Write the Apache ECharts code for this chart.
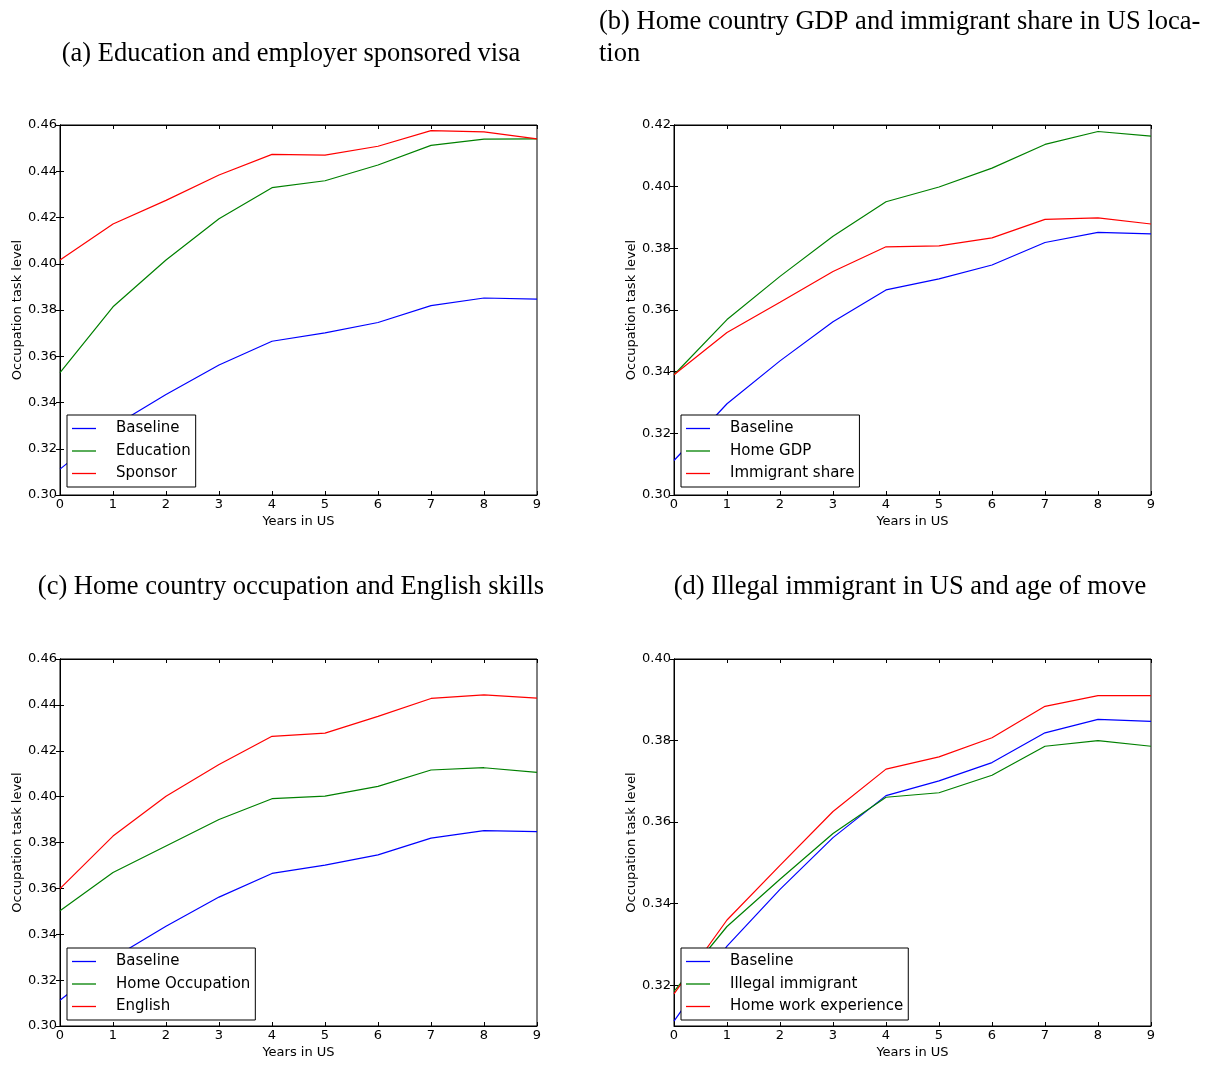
<!DOCTYPE html>
<html>
<head>
<meta charset="utf-8">
<script src="https://cdn.jsdelivr.net/npm/echarts@6/dist/echarts.min.js"></script>
<style>
  html, body { margin: 0; padding: 0; background: #fff; }
  #main { width: 1224px; height: 1065px; }
</style>
</head>
<body>
<div id="main"></div>
<script>
// years since arrival
var years = [0, 1, 2, 3, 4, 5, 6, 7, 8, 9];

// baseline is shared by all four panels
var baseline = [0.3112, 0.3296, 0.3435, 0.3562, 0.3665, 0.3701, 0.3746, 0.3819, 0.3852, 0.3847];

// (a)
var education = [0.3529, 0.3814, 0.4016, 0.4195, 0.4329, 0.4359, 0.4427, 0.4512, 0.4539, 0.4540];
var sponsor = [0.4016, 0.4172, 0.4274, 0.4384, 0.4473, 0.4470, 0.4508, 0.4576, 0.4570, 0.4540];
// (b)
var homeGdp = [0.3390, 0.3569, 0.3709, 0.3839, 0.3951, 0.3999, 0.4060, 0.4137, 0.4179, 0.4164];
var immigrantShare = [0.3390, 0.3527, 0.3625, 0.3725, 0.3805, 0.3808, 0.3834, 0.3894, 0.3899, 0.3879];
// (c)
var homeOccupation = [0.3502, 0.3669, 0.3785, 0.3900, 0.3991, 0.4002, 0.4045, 0.4116, 0.4126, 0.4106];
var english = [0.3599, 0.3828, 0.4002, 0.4140, 0.4263, 0.4277, 0.4350, 0.4428, 0.4444, 0.4429];
// (d)
var illegal = [0.3185, 0.3344, 0.3460, 0.3572, 0.3661, 0.3672, 0.3715, 0.3786, 0.3800, 0.3786];
var homeWork = [0.3179, 0.3360, 0.3494, 0.3626, 0.3730, 0.3760, 0.3807, 0.3884, 0.3910, 0.3910];

var panelTitles = [
    '(a) Education and employer sponsored visa',
    '(b) Home country GDP and immigrant share in US loca-\ntion',
    '(c) Home country occupation and English skills',
    '(d) Illegal immigrant in US and age of move'
];
var yTicks = [
    [0.30, 0.32, 0.34, 0.36, 0.38, 0.40, 0.42, 0.44, 0.46],
    [0.30, 0.32, 0.34, 0.36, 0.38, 0.40, 0.42],
    [0.30, 0.32, 0.34, 0.36, 0.38, 0.40, 0.42, 0.44, 0.46],
    [0.32, 0.34, 0.36, 0.38, 0.40]
];
var yMin = [0.30, 0.30, 0.30, 0.31];
var yMax = [0.46, 0.42, 0.46, 0.40];

var panels = [
    [['Baseline', baseline, '#0000ff'], ['Education', education, '#008000'], ['Sponsor', sponsor, '#ff0000']],
    [['Baseline', baseline, '#0000ff'], ['Home GDP', homeGdp, '#008000'], ['Immigrant share', immigrantShare, '#ff0000']],
    [['Baseline', baseline, '#0000ff'], ['Home Occupation', homeOccupation, '#008000'], ['English', english, '#ff0000']],
    [['Baseline', baseline, '#0000ff'], ['Illegal immigrant', illegal, '#008000'], ['Home work experience', homeWork, '#ff0000']]
];

var grids = [
    { left: 60, top: 125, width: 477, height: 370 },
    { left: 674, top: 125, width: 477, height: 370 },
    { left: 60, top: 659, width: 477, height: 367 },
    { left: 674, top: 659, width: 477, height: 367 }
];
var legendPos = [
    { left: 67, top: 415 },
    { left: 681, top: 415 },
    { left: 67, top: 948 },
    { left: 681, top: 948 }
];

var sans = 'DejaVu Sans';
var serif = 'Liberation Serif';

var xAxes = [], yAxes = [], series = [], legends = [];

grids.forEach(function (g, i) {
    g.show = true;
    g.borderColor = '#000';
    g.borderWidth = 1;
    g.containLabel = false;

    // bottom / left axes with labels
    xAxes.push({
        gridIndex: i, type: 'value', min: 0, max: 9, interval: 1,
        name: 'Years in US', nameLocation: 'middle', nameGap: 20,
        nameTextStyle: { fontFamily: sans, fontSize: 13, color: '#000' },
        axisLine: { onZero: false, lineStyle: { color: '#000', width: 1 } },
        axisTick: { inside: true, length: 4, lineStyle: { color: '#000' } },
        axisLabel: { fontFamily: sans, fontSize: 13, color: '#000', margin: 3 },
        splitLine: { show: false }
    });
    yAxes.push({
        gridIndex: i, type: 'value', min: yMin[i], max: yMax[i],
        name: 'Occupation task level', nameLocation: 'middle', nameGap: 36,
        nameTextStyle: { fontFamily: sans, fontSize: 13, color: '#000' },
        axisLine: { lineStyle: { color: '#000', width: 1 } },
        axisTick: { inside: true, length: 4, customValues: yTicks[i], lineStyle: { color: '#000' } },
        axisLabel: {
            fontFamily: sans, fontSize: 13, color: '#000', margin: 3,
            customValues: yTicks[i],
            formatter: function (v) { return v.toFixed(2); }
        },
        splitLine: { show: false }
    });
});

// mirrored ticks on top and right
grids.forEach(function (g, i) {
    xAxes.push({
        gridIndex: i, type: 'value', position: 'top', min: 0, max: 9, interval: 1,
        axisLine: { onZero: false, lineStyle: { color: '#000' } },
        axisTick: { inside: true, length: 4, lineStyle: { color: '#000' } },
        axisLabel: { show: false },
        splitLine: { show: false }
    });
    yAxes.push({
        gridIndex: i, type: 'value', position: 'right', min: yMin[i], max: yMax[i],
        axisLine: { show: true, lineStyle: { color: '#000' } },
        axisTick: { show: true, inside: true, length: 4, customValues: yTicks[i], lineStyle: { color: '#000' } },
        axisLabel: { show: false, customValues: yTicks[i] },
        splitLine: { show: false }
    });
});

panels.forEach(function (p, i) {
    p.forEach(function (s) {
        series.push({
            name: s[0],
            type: 'line',
            xAxisIndex: i,
            yAxisIndex: i,
            symbol: 'none',
            silent: true,
            animation: false,
            color: s[2],
            lineStyle: { width: 1.2, color: s[2] },
            data: years.map(function (y, k) { return [y, s[1][k]]; })
        });
    });
    legends.push({
        left: legendPos[i].left,
        top: legendPos[i].top,
        orient: 'vertical',
        data: p.map(function (s) { return s[0]; }),
        backgroundColor: '#fff',
        borderColor: '#000',
        borderWidth: 1,
        borderRadius: 0,
        padding: [6, 5, 6, 5],
        icon: 'rect',
        itemWidth: 24,
        itemHeight: 1.3,
        itemGap: 7.5,
        selectedMode: false,
        textStyle: { fontFamily: sans, fontSize: 15, color: '#000', padding: [0, 0, 0, 15] }
    });
});

var titles = [
    { text: panelTitles[0], left: 291, top: 38, textAlign: 'center' },
    { text: panelTitles[1], left: 599, top: 6 },
    { text: panelTitles[2], left: 291, top: 571, textAlign: 'center' },
    { text: panelTitles[3], left: 910, top: 571, textAlign: 'center' }
].map(function (t) {
    t.padding = 0;
    t.textStyle = { fontFamily: serif, fontSize: 26.5, fontWeight: 'normal', color: '#000', lineHeight: 32 };
    return t;
});

var myChart = echarts.init(document.getElementById('main'), null, { renderer: 'canvas' });
myChart.setOption({
    backgroundColor: '#fff',
    animation: false,
    title: titles,
    legend: legends,
    grid: grids,
    xAxis: xAxes,
    yAxis: yAxes,
    series: series
});
</script>
</body>
</html>
